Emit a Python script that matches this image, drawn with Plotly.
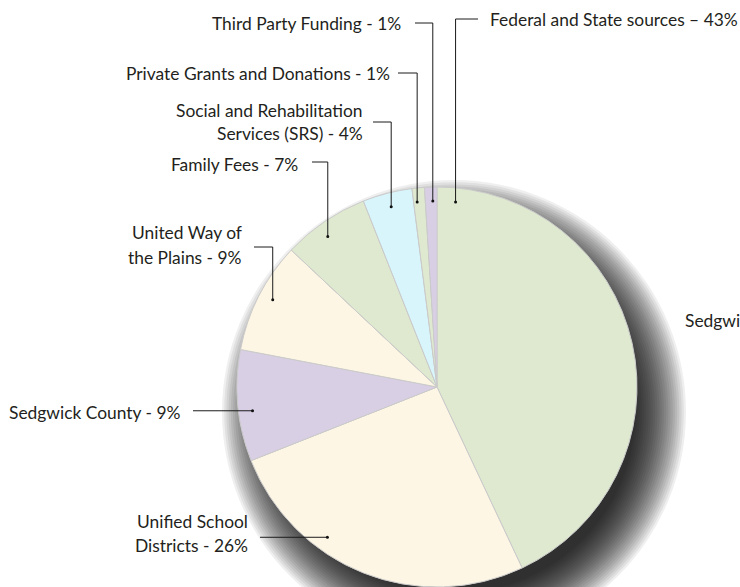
import math
import plotly.graph_objects as go

# ---------------- data ----------------
sources = [
    "Federal and State sources",
    "Unified School Districts",
    "Sedgwick County",
    "United Way of the Plains",
    "Family Fees",
    "Social and Rehabilitation Services (SRS)",
    "Private Grants and Donations",
    "Third Party Funding",
]
shares = [43, 26, 9, 9, 7, 4, 1, 1]
label_texts = [
    ["Federal and State sources \u2013 43%"],
    ["Unified School", "Districts - 26%"],
    ["Sedgwick County - 9%"],
    ["United Way of", "the Plains - 9%"],
    ["Family Fees - 7%"],
    ["Social and Rehabilitation", "Services (SRS) - 4%"],
    ["Private Grants and Donations - 1%"],
    ["Third Party Funding - 1%"],
]
slice_colors = ["#dee9d0", "#fdf6e4", "#d9cfe5", "#fdf6e4",
                "#dee9d0", "#d8f5fc", "#dee9d0", "#d9cfe5"]

# ---------------- layout constants (pixels) ----------------
W, H = 740, 587
CX, CY, R = 437, 387, 200
FONT = "Lato"
FS = 17.4
TXT = "#231f20"

def px(x):
    return x / W

def py(y):
    return 1 - y / H

LEAD = [
    dict(frac=0.037, side="left", tx=488, ty=[19], ex=478, ly=19, kind="elbow"),
    dict(frac=0.655, side="right", tx=250, ty=[521, 545], ex=260, ly=None, kind="flat"),
    dict(frac=0.44, side="right", tx=183, ty=[412], ex=193, ly=None, kind="flat"),
    dict(frac=0.53, side="right", tx=244, ty=[233, 257], ex=254, ly=247, kind="elbow"),
    dict(frac=0.43, side="right", tx=300, ty=[164], ex=312, ly=162, kind="elbow"),
    dict(frac=0.51, side="right", tx=365, ty=[110, 134], ex=373, ly=122, kind="elbow"),
    dict(frac=0.30, side="right", tx=392, ty=[74], ex=398, ly=73, kind="elbow"),
    dict(frac=0.64, side="right", tx=403, ty=[23], ex=415, ly=23, kind="elbow"),
]

fig = go.Figure()
fig.add_trace(go.Pie(
    labels=sources, values=shares, sort=False, direction="clockwise",
    rotation=0, textinfo="none", hoverinfo="label+percent",
    marker=dict(colors=slice_colors, line=dict(color="#cbcbcb", width=1)),
    domain=dict(x=[px(CX - R), px(CX + R)], y=[max(0.0, py(CY + R)), py(CY - R)]),
    showlegend=False,
))

shapes = []
# soft drop shadow (stacked translucent circles, offset down-right)
SX, SY, SR = CX + 17, CY + 25, R
N = 24
for k in range(N):
    rr = SR + 32 - k * 2.2
    shapes.append(dict(type="circle", xref="paper", yref="paper", layer="below",
                       x0=px(SX - rr), x1=px(SX + rr), y0=py(SY + rr), y1=py(SY - rr),
                       fillcolor="rgba(0,0,0,0.062)", line=dict(width=0)))

annotations = []
total = sum(shares)
start = 0.0
for i, v in enumerate(shares):
    span = 360.0 * v / total
    ang = math.radians(start + LEAD[i]["frac"] * span)
    start += span
    dx = CX + 0.93 * R * math.sin(ang)
    dy = CY - 0.93 * R * math.cos(ang)
    L = LEAD[i]
    if L["kind"] == "elbow":
        path = f"M {px(L['ex'])},{py(L['ly'])} L {px(dx)},{py(L['ly'])} L {px(dx)},{py(dy)}"
    else:
        path = f"M {px(L['ex'])},{py(dy)} L {px(dx)},{py(dy)}"
    shapes.append(dict(type="path", xref="paper", yref="paper", path=path,
                       line=dict(color="#1a1a1a", width=1)))
    shapes.append(dict(type="circle", xref="paper", yref="paper",
                       x0=px(dx - 1.5), x1=px(dx + 1.5), y0=py(dy + 1.5), y1=py(dy - 1.5),
                       fillcolor="#111", line=dict(width=0)))
    for line_txt, yy in zip(label_texts[i], L["ty"]):
        annotations.append(dict(
            x=px(L["tx"]), y=py(yy), xref="paper", yref="paper",
            text=line_txt, showarrow=False,
            xanchor="left" if L["side"] == "left" else "right", yanchor="middle",
            font=dict(family=FONT, size=FS, color=TXT)))

# stray label at the right edge (cut off in the original artwork)
annotations.append(dict(x=px(683), y=py(320), xref="paper", yref="paper",
                        text="Sedgwick County - 9%", showarrow=False,
                        xanchor="left", yanchor="middle",
                        font=dict(family=FONT, size=FS, color=TXT)))

fig.update_layout(
    width=W, height=H, margin=dict(l=0, r=0, t=0, b=0),
    paper_bgcolor="white", plot_bgcolor="white",
    shapes=shapes, annotations=annotations,
)
fig.write_html("out.html", config={"displayModeBar": False},
               post_script="document.body.style.margin='0';")
